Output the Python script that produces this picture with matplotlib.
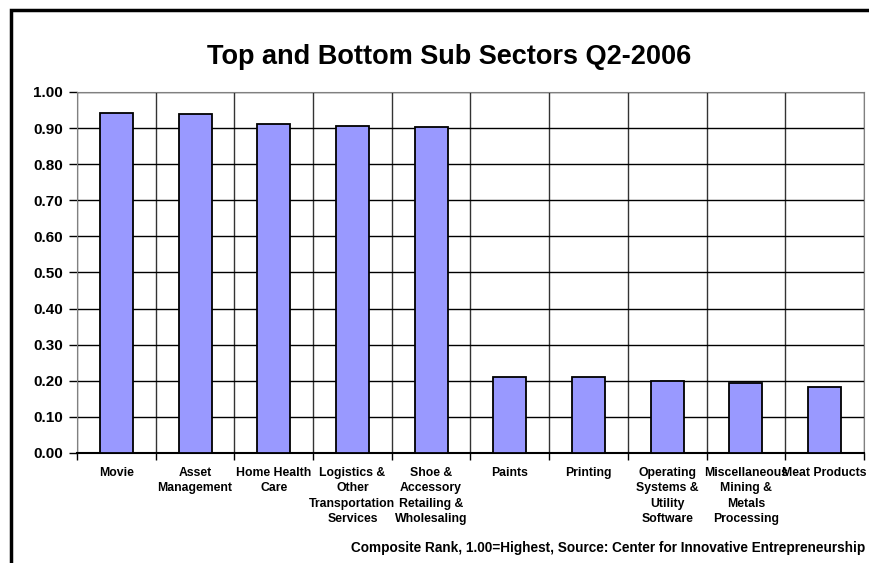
import matplotlib.pyplot as plt
import numpy as np
from matplotlib.patches import Rectangle

plt.rcParams['font.family'] = ['Liberation Sans', 'DejaVu Sans']

# Datos
sectores = ["Movie", "Asset\nManagement", "Home Health\nCare",
            "Logistics &\nOther\nTransportation\nServices",
            "Shoe &\nAccessory\nRetailing &\nWholesaling",
            "Paints", "Printing",
            "Operating\nSystems &\nUtility\nSoftware",
            "Miscellaneous\nMining &\nMetals\nProcessing",
            "Meat Products"]
rango = [0.942, 0.938, 0.910, 0.907, 0.903, 0.210, 0.210, 0.200, 0.195, 0.184]
ticks_y = [0.0, 0.1, 0.2, 0.3, 0.4, 0.5, 0.6, 0.7, 0.8, 0.9, 1.0]

fig = plt.figure(figsize=(8.7, 5.63), dpi=100)
ax = fig.add_axes([0.0885, 0.1954, 0.9045, 0.6412])

x = np.arange(len(sectores))
ax.bar(x, rango, width=0.42, color='#9999FF', edgecolor='black', linewidth=1.3, zorder=3)

ax.set_xlim(-0.5, len(sectores) - 0.5)
ax.set_ylim(0, 1.0)
ax.set_yticks(ticks_y)
ax.set_yticklabels([f"{v:.2f}" for v in ticks_y], fontsize=11, fontweight='bold')
ax.set_xticks(x)
ax.set_xticklabels(sectores, fontsize=8.8, fontweight='bold', linespacing=1.38)
ax.set_xticks(np.arange(-0.5, len(sectores)), minor=True)
ax.tick_params(axis='x', which='major', length=0, pad=10)
ax.tick_params(axis='x', which='minor', length=5, width=1, direction='out')
ax.tick_params(axis='y', length=6, width=1, pad=4)

ax.grid(axis='y', color='black', linewidth=1, zorder=1)
ax.grid(axis='x', which='minor', color='#333333', linewidth=1, zorder=1)
for lado in ['top', 'right', 'left']:
    ax.spines[lado].set_color('#808080')
ax.spines['bottom'].set_linewidth(1.5)

fig.text(449 / 870, 1 - 57 / 563, "Top and Bottom Sub Sectors Q2-2006",
         ha='center', va='center', fontsize=19.5, fontweight='bold')
fig.text(865 / 870, 1 - 548 / 563,
         "Composite Rank, 1.00=Highest, Source: Center for Innovative Entrepreneurship",
         ha='right', va='center', fontsize=9.8, fontweight='bold')

# Marco
fig.patches.append(Rectangle((11 / 870, -0.1), 1.2, 1 - 10 / 563 + 0.1,
                             transform=fig.transFigure, fill=False,
                             edgecolor='black', linewidth=2.5))

plt.savefig("out.png", dpi=100)
